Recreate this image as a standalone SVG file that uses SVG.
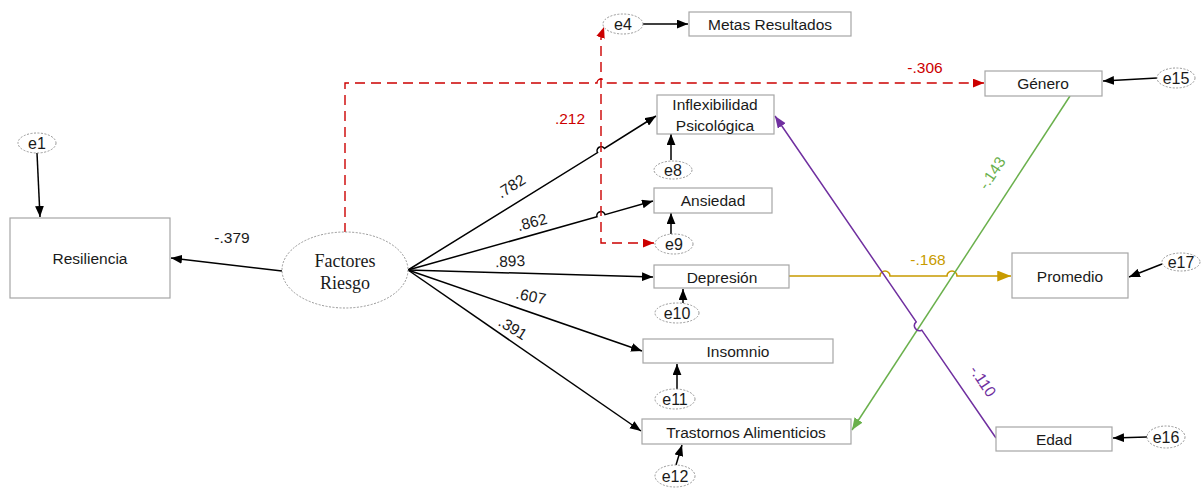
<svg xmlns="http://www.w3.org/2000/svg" width="1204" height="488" viewBox="0 0 1204 488">
  <style>
    .box { fill: #ffffff; stroke: #a6a6a6; stroke-width: 1.2; }
    .err { fill: #ffffff; stroke: #8c8c8c; stroke-width: 0.9; stroke-dasharray: 2 1.5; }
    .lbl { font-family: "Liberation Sans", Arial, sans-serif; font-size: 15.5px; fill: #1a1a1a; text-anchor: middle; dominant-baseline: central; }
    .elb { font-family: "Liberation Sans", Arial, sans-serif; font-size: 16px; fill: #1a1a1a; text-anchor: middle; dominant-baseline: central; }
    .lat { font-family: "Liberation Serif", "Times New Roman", serif; font-size: 18px; fill: #1a1a1a; text-anchor: middle; dominant-baseline: central; }
    .num { font-family: "Liberation Sans", Arial, sans-serif; font-size: 15.5px; text-anchor: middle; dominant-baseline: central; }
    .blk { fill: none; stroke: #000000; stroke-width: 1.5; }
    .red { fill: none; stroke: #cc0000; stroke-width: 1.4; stroke-dasharray: 10 6; }
    .gold { fill: none; stroke: #c89b00; stroke-width: 1.6; }
    .green { fill: none; stroke: #6ab04c; stroke-width: 1.5; }
    .purple { fill: none; stroke: #7030a0; stroke-width: 1.5; }
  </style>
  <defs>
    <marker id="ah" viewBox="0 0 10 8" refX="10" refY="4" markerWidth="11" markerHeight="9" markerUnits="userSpaceOnUse" orient="auto-start-reverse">
      <path d="M0,0 L10,4 L0,8 z" fill="#000000"/>
    </marker>
    <marker id="ahRed" viewBox="0 0 10 8" refX="10" refY="4" markerWidth="11" markerHeight="9" markerUnits="userSpaceOnUse" orient="auto-start-reverse">
      <path d="M0,0 L10,4 L0,8 z" fill="#cc0000"/>
    </marker>
    <marker id="ahGold" viewBox="0 0 10 8" refX="10" refY="4" markerWidth="14" markerHeight="11" markerUnits="userSpaceOnUse" orient="auto">
      <path d="M0,0 L10,4 L0,8 z" fill="#c89b00"/>
    </marker>
    <marker id="ahGreen" viewBox="0 0 10 8" refX="10" refY="4" markerWidth="12" markerHeight="10" markerUnits="userSpaceOnUse" orient="auto">
      <path d="M0,0 L10,4 L0,8 z" fill="#6ab04c"/>
    </marker>
    <marker id="ahPurple" viewBox="0 0 10 8" refX="10" refY="4" markerWidth="12" markerHeight="10" markerUnits="userSpaceOnUse" orient="auto">
      <path d="M0,0 L10,4 L0,8 z" fill="#7030a0"/>
    </marker>
  </defs>

  <rect width="1204" height="488" fill="#ffffff"/>

  <!-- connectors -->
  <g id="connectors">
    <!-- error terms -->
    <path class="blk" d="M37,153 L40,217" marker-end="url(#ah)"/>
    <path class="blk" d="M643,24 H688" marker-end="url(#ah)"/>
    <path class="blk" d="M671,160 V134" marker-end="url(#ah)"/>
    <path class="blk" d="M671,234 V213" marker-end="url(#ah)"/>
    <path class="blk" d="M683,303 V289" marker-end="url(#ah)"/>
    <path class="blk" d="M677,389 V364" marker-end="url(#ah)"/>
    <path class="blk" d="M676,465 L682,445" marker-end="url(#ah)"/>
    <path class="blk" d="M1157,78 L1103,81" marker-end="url(#ah)"/>
    <path class="blk" d="M1162,264 L1129,277" marker-end="url(#ah)"/>
    <path class="blk" d="M1147,437 L1113,438" marker-end="url(#ah)"/>

    <!-- structural paths -->
    <path class="blk" d="M282,271 L171,258" marker-end="url(#ah)"/>
    <path class="blk" d="M408,270 L597.6,152.6 A4,4 0 0 1 604.4,148.4 L656,116" marker-end="url(#ah)"/>
    <path class="blk" d="M408,270 L597,216.8 A4,4 0 0 1 605,214.6 L653,201" marker-end="url(#ah)"/>
    <path class="blk" d="M408,270 L653,277" marker-end="url(#ah)"/>
    <path class="blk" d="M408,270 L642,351" marker-end="url(#ah)"/>
    <path class="blk" d="M408,270 L641,431" marker-end="url(#ah)"/>

    <!-- dashed red paths -->
    <path class="red" d="M345,233 V83 H597 A4,4 0 0 1 605,83 H984" marker-end="url(#ahRed)"/>
    <path class="red" d="M654,243 H601 V36 L604,27" marker-start="url(#ahRed)" marker-end="url(#ahRed)"/>

    <!-- coloured paths -->
    <path class="gold" d="M789,276 H880 A5,5 0 0 1 890,276 H947 A5,5 0 0 1 957,276 H1011" marker-end="url(#ahGold)"/>
    <path class="green" d="M1070,96 L852,430" marker-end="url(#ahGreen)"/>
    <path class="purple" d="M996,438 L921.8,330.1 A5,5 0 0 1 916.2,321.9 L775,116" marker-end="url(#ahPurple)"/>

    <!-- coefficients -->
    <text class="num" x="232" y="237" fill="#1a1a1a">-.379</text>
    <text class="num" x="511" y="186" fill="#1a1a1a" transform="rotate(-32 511 186)">.782</text>
    <text class="num" x="532" y="222" fill="#1a1a1a" transform="rotate(-15 532 222)">.862</text>
    <text class="num" x="510" y="261" fill="#1a1a1a" transform="rotate(-3 510 261)">.893</text>
    <text class="num" x="531" y="296" fill="#1a1a1a" transform="rotate(12 531 296)">.607</text>
    <text class="num" x="513" y="328" fill="#1a1a1a" transform="rotate(32 513 328)">.391</text>
    <text class="num" x="570" y="118" fill="#cc0000">.212</text>
    <text class="num" x="925" y="67" fill="#cc0000">-.306</text>
    <text class="num" x="928" y="259" fill="#c89b00">-.168</text>
    <text class="num" x="992" y="173" fill="#6ab04c" transform="rotate(-56 992 173)">-.143</text>
    <text class="num" x="983" y="381" fill="#7030a0" transform="rotate(56 983 381)">-.110</text>
  </g>

  <!-- nodes -->
  <g id="n-resiliencia">
    <rect class="box" x="10" y="218" width="160" height="80"/>
    <text class="lbl" x="90" y="258">Resiliencia</text>
  </g>
  <g id="n-e1">
    <ellipse class="err" cx="37" cy="143" rx="19" ry="10"/>
    <text class="elb" x="37" y="143">e1</text>
  </g>
  <g id="n-factores">
    <ellipse class="err" cx="345" cy="270" rx="63" ry="38"/>
    <text class="lat" x="345" y="261">Factores</text>
    <text class="lat" x="345" y="283">Riesgo</text>
  </g>
  <g id="n-e4">
    <ellipse class="err" cx="623" cy="24" rx="20" ry="10"/>
    <text class="elb" x="623" y="24">e4</text>
  </g>
  <g id="n-metas">
    <rect class="box" x="689" y="12" width="162" height="24"/>
    <text class="lbl" x="770" y="24">Metas Resultados</text>
  </g>
  <g id="n-inflexibilidad">
    <rect class="box" x="657" y="95" width="117" height="39"/>
    <text class="lbl" x="715" y="104">Inflexibilidad</text>
    <text class="lbl" x="715" y="125">Psicológica</text>
  </g>
  <g id="n-e8">
    <ellipse class="err" cx="673" cy="170" rx="19" ry="9"/>
    <text class="elb" x="673" y="170">e8</text>
  </g>
  <g id="n-ansiedad">
    <rect class="box" x="654" y="188" width="118" height="25"/>
    <text class="lbl" x="713" y="200">Ansiedad</text>
  </g>
  <g id="n-e9">
    <ellipse class="err" cx="674" cy="244" rx="19" ry="10"/>
    <text class="elb" x="674" y="244">e9</text>
  </g>
  <g id="n-depresion">
    <rect class="box" x="654" y="265" width="135" height="23"/>
    <text class="lbl" x="722" y="277">Depresión</text>
  </g>
  <g id="n-e10">
    <ellipse class="err" cx="677" cy="313" rx="22" ry="10"/>
    <text class="elb" x="677" y="313">e10</text>
  </g>
  <g id="n-insomnio">
    <rect class="box" x="643" y="339" width="190" height="24" stroke="#c8c8c8"/>
    <text class="lbl" x="738" y="351">Insomnio</text>
  </g>
  <g id="n-e11">
    <ellipse class="err" cx="675" cy="399" rx="20" ry="10"/>
    <text class="elb" x="675" y="399">e11</text>
  </g>
  <g id="n-trastornos">
    <rect class="box" x="642" y="419" width="209" height="25"/>
    <text class="lbl" x="746" y="432">Trastornos Alimenticios</text>
  </g>
  <g id="n-e12">
    <ellipse class="err" cx="675" cy="476" rx="20" ry="11"/>
    <text class="elb" x="675" y="476">e12</text>
  </g>
  <g id="n-genero">
    <rect class="box" x="985" y="71" width="117" height="25"/>
    <text class="lbl" x="1043" y="83">Género</text>
  </g>
  <g id="n-e15">
    <ellipse class="err" cx="1176" cy="78" rx="19" ry="10"/>
    <text class="elb" x="1176" y="78">e15</text>
  </g>
  <g id="n-promedio">
    <rect class="box" x="1012" y="253" width="116" height="45"/>
    <text class="lbl" x="1070" y="276">Promedio</text>
  </g>
  <g id="n-e17">
    <ellipse class="err" cx="1181" cy="262" rx="19" ry="9"/>
    <text class="elb" x="1181" y="262">e17</text>
  </g>
  <g id="n-edad">
    <rect class="box" x="996" y="427" width="116" height="24"/>
    <text class="lbl" x="1054" y="439">Edad</text>
  </g>
  <g id="n-e16">
    <ellipse class="err" cx="1166" cy="437" rx="19" ry="11"/>
    <text class="elb" x="1166" y="437">e16</text>
  </g>
</svg>
